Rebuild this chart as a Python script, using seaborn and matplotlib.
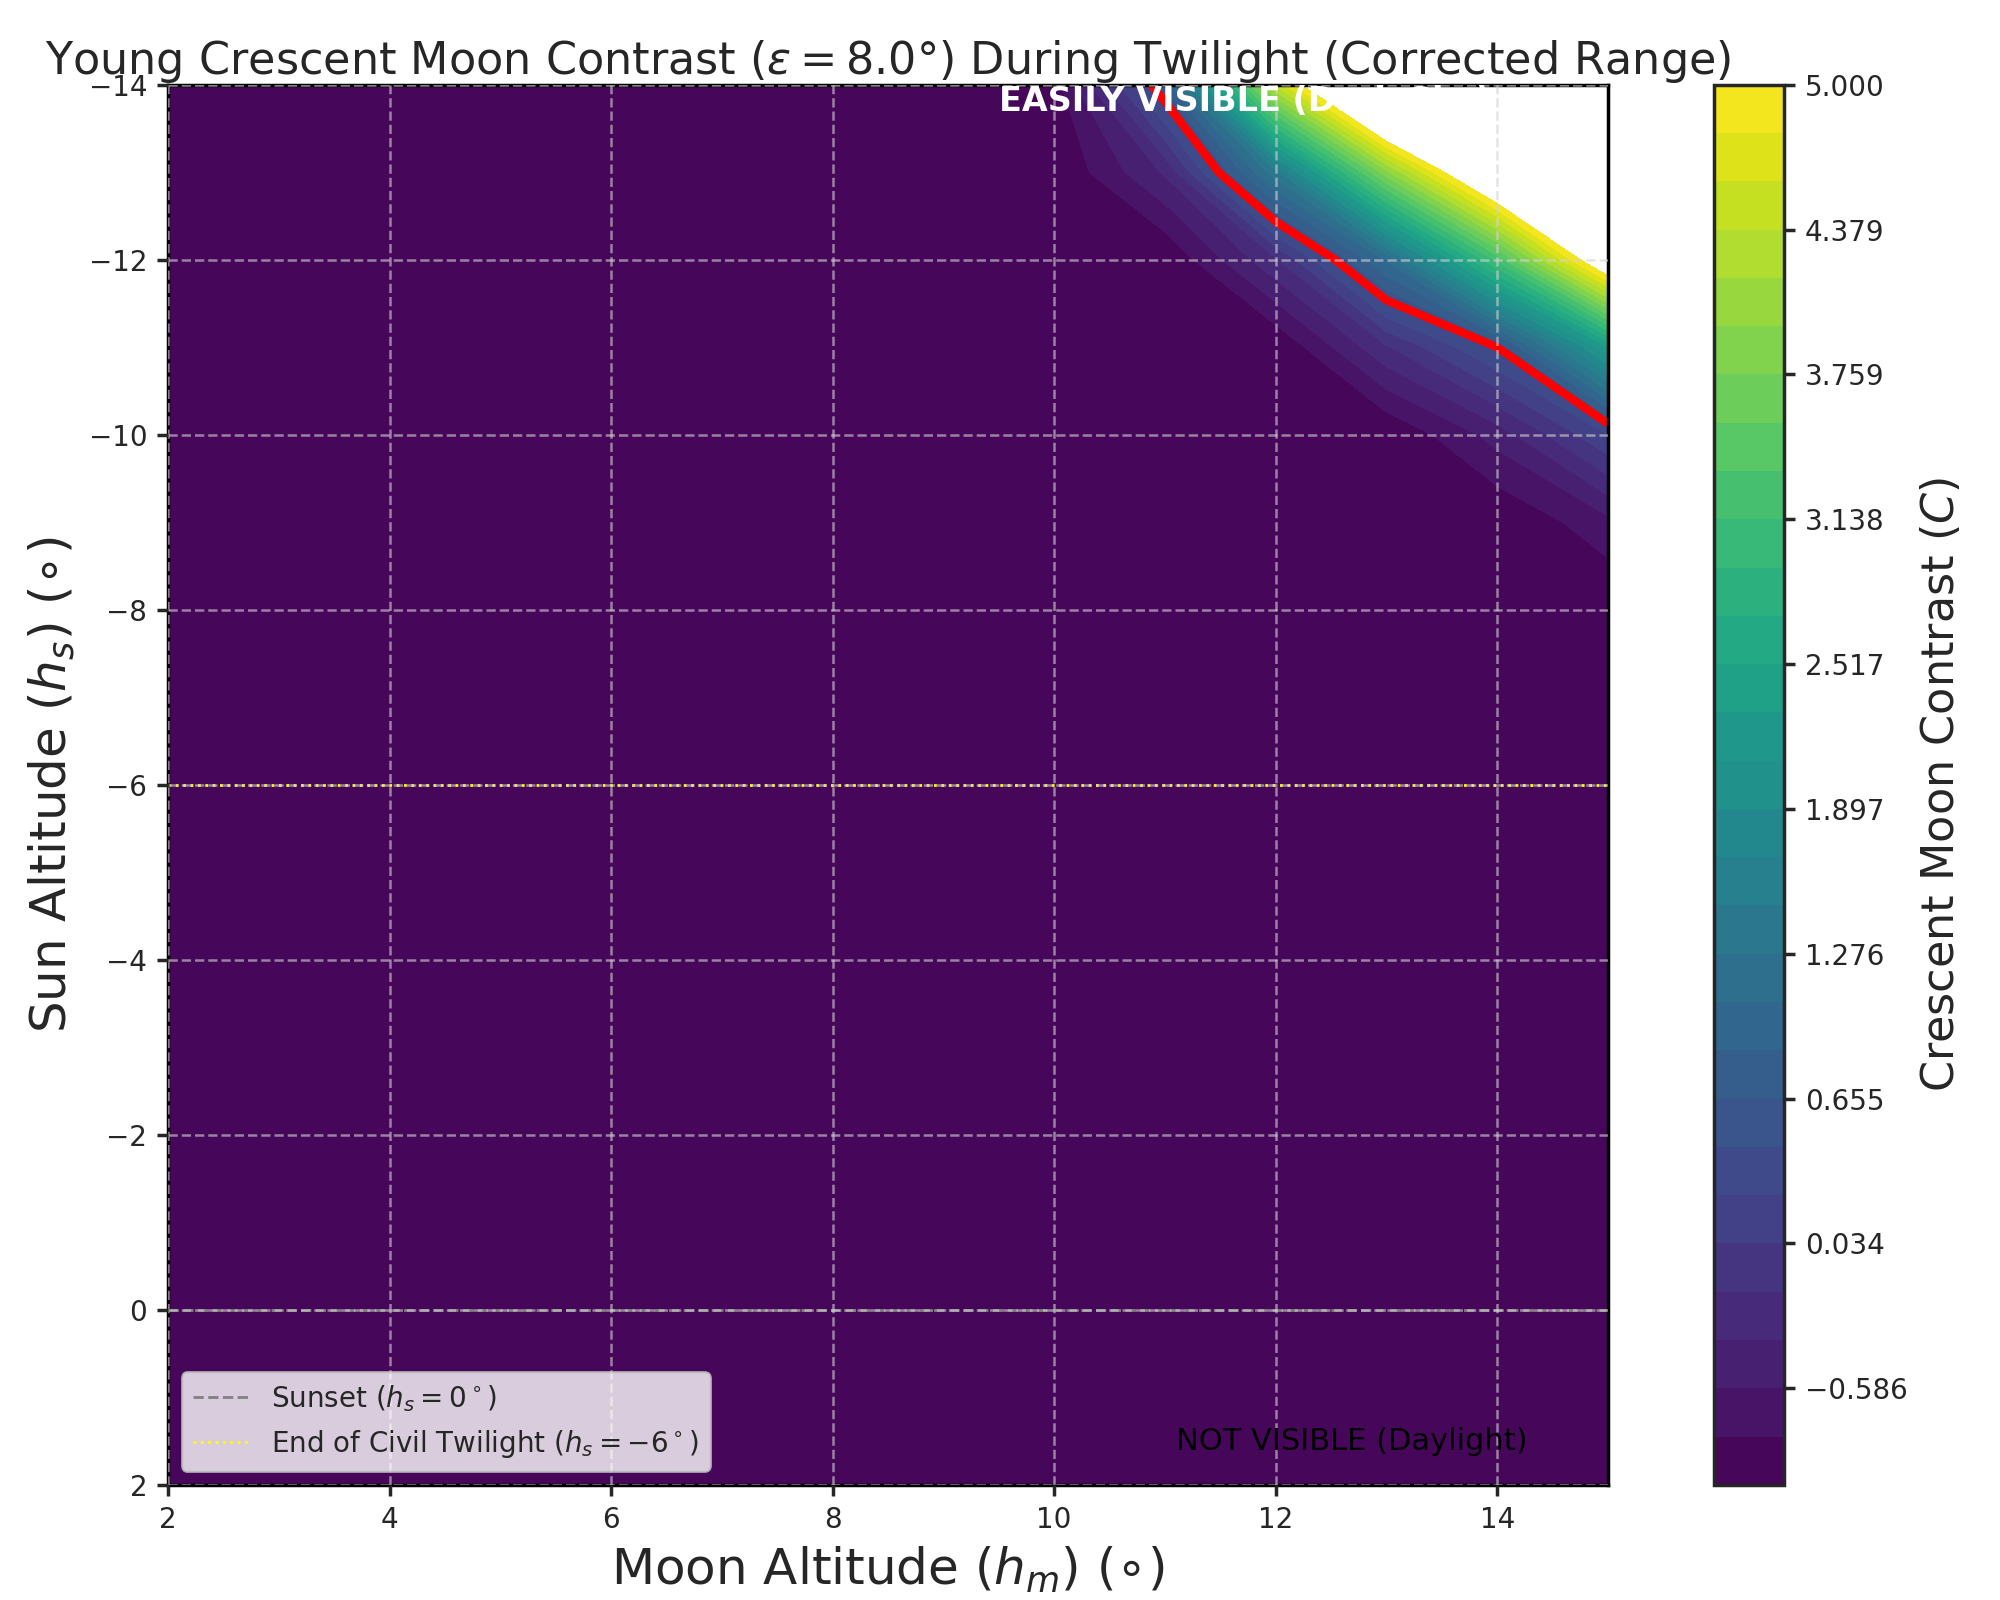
import matplotlib
matplotlib.use("Agg")
import matplotlib.pyplot as plt
from matplotlib.ticker import FuncFormatter
import numpy as np
import seaborn as sns

sns.set_theme(style="white")
plt.rcParams["font.family"] = ["DejaVu Sans"]

# grid
moon_alt = [2, 10, 11, 12, 13, 14, 15]
sun_alt = [2, -8, -9, -10, -11, -12, -13, -14]
# rows follow sun_alt, columns follow moon_alt
contrast = [
    [-1.0, -1.0, -1.0, -1.0, -1.0, -1.0, -1.0],
    [-1.0, -1.0, -1.0, -1.0, -1.0, -1.0, -1.0],
    [-1.0, -1.0, -1.0, -1.0, -1.0, -1.0, -0.65],
    [-1.0, -1.0, -1.0, -1.0, -1.0, -0.5, 0.24],
    [-1.0, -1.0, -1.0, -1.0, -0.2, 0.5, 2.3],
    [-1.0, -1.0, -1.0, -0.2, 1.1, 3.2, 5.6],
    [-1.0, -1.0, -0.35, 1.4, 3.9, 6.0, 8.0],
    [-1.0, -0.9, 0.7, 4.4, 7.0, 9.0, 10.0],
]
levels = np.linspace(-1, 5, 30)
cbar_ticks = levels[::-3][::-1]

fig = plt.figure(figsize=(10, 8), dpi=200)
ax = fig.add_axes([0.084, 0.072, 0.72, 0.875])
cax = fig.add_axes([0.857, 0.072, 0.035, 0.875])

cf = ax.contourf(moon_alt, sun_alt, contrast, levels=levels, cmap="viridis")
ax.contour(moon_alt, sun_alt, contrast, levels=[0.5], colors="red", linewidths=3)

ax.axhline(0, color="gray", linestyle="--", linewidth=1, label="Sunset ($h_s = 0^\\circ$)")
ax.axhline(-6, color="yellow", linestyle=":", linewidth=1,
           label="End of Civil Twilight ($h_s = -6^\\circ$)")

ax.set_xlim(2, 15)
ax.set_ylim(2, -14)
ax.set_xticks([2, 4, 6, 8, 10, 12, 14])
ax.set_yticks([2, 0, -2, -4, -6, -8, -10, -12, -14])
ax.set_axisbelow(False)
ax.grid(True, color="lightgray", linestyle="--", alpha=0.6, linewidth=0.9)
ax.tick_params(labelsize=10, length=4, left=True, bottom=True)
for s in ax.spines.values():
    s.set_color("black")

ax.text(9.5, -13.7, "EASILY VISIBLE (Dark Sky)", color="white", fontweight="bold", fontsize=12)
ax.text(11.1, 1.6, "NOT VISIBLE (Daylight)", color="black", fontsize=11)

ax.set_title("Young Crescent Moon Contrast ($\\epsilon = 8.0°$) During Twilight (Corrected Range)",
             fontsize=16, pad=4)
ax.set_xlabel("Moon Altitude ($h_m$) ($\\circ$)", fontsize=18)
ax.set_ylabel("Sun Altitude ($h_s$) ($\\circ$)", fontsize=18)
ax.legend(loc="lower left", fontsize=10, frameon=True)

cb = fig.colorbar(cf, cax=cax, ticks=cbar_ticks)
cb.ax.yaxis.set_major_formatter(FuncFormatter(lambda v, p: f"{v:.3f}".replace("-", "\u2212")))
cb.set_label("Crescent Moon Contrast ($C$)", fontsize=16)
cb.ax.tick_params(labelsize=10, right=True, length=4)

fig.savefig("out.png", dpi=200)
